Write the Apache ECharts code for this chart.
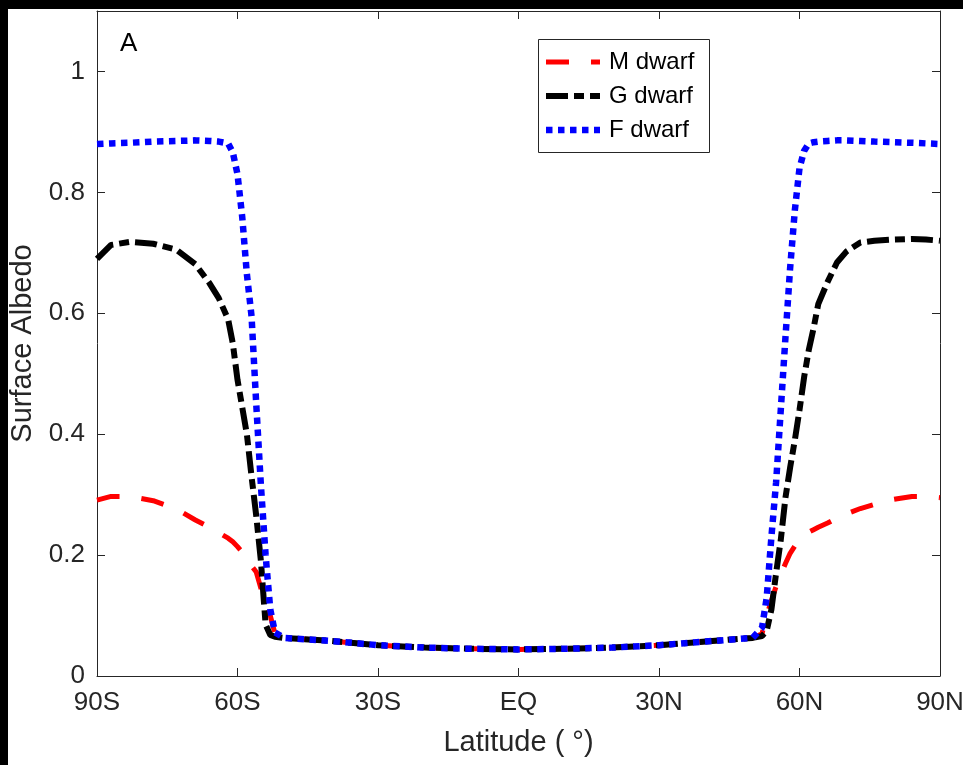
<!DOCTYPE html>
<html>
<head>
<meta charset="utf-8">
<script src="https://cdn.jsdelivr.net/npm/echarts@6/dist/echarts.min.js"></script>
<style>
html,body{margin:0;padding:0;background:#fff;overflow:hidden;}
#c{width:963px;height:765px;}
</style>
</head>
<body>
<div id="c"></div>
<script>
// Latitudes (degrees, negative = south)
const lats = [-90,-87,-83,-78,-73,-69,-66,-64,-62,-61,-60,-59,-58,-57,-56,-55,-54,-53,-52,-50,-40,-30,-20,-10,0,10,20,30,40,50,52,53,54,55,56,57,58,59,60,61,62,63,64,66,68,70,73,76,80,84,87,90];
// Surface albedo per series
const mDwarf = [0.291,0.297,0.297,0.290,0.276,0.258,0.246,0.237,0.228,0.222,0.214,0.205,0.193,0.182,0.172,0.145,0.122,0.100,0.070,0.063,0.058,0.051,0.047,0.045,0.044,0.045,0.047,0.051,0.057,0.063,0.070,0.100,0.125,0.148,0.168,0.186,0.203,0.215,0.225,0.232,0.238,0.242,0.246,0.253,0.261,0.268,0.277,0.284,0.292,0.297,0.297,0.295];
const gDwarf = [0.690,0.713,0.718,0.715,0.705,0.681,0.650,0.625,0.590,0.550,0.490,0.445,0.400,0.330,0.265,0.190,0.085,0.068,0.065,0.063,0.058,0.051,0.047,0.045,0.044,0.045,0.047,0.051,0.057,0.063,0.066,0.075,0.110,0.170,0.225,0.295,0.345,0.390,0.440,0.495,0.540,0.575,0.615,0.652,0.684,0.702,0.717,0.720,0.722,0.723,0.722,0.720];
const fDwarf = [0.880,0.881,0.882,0.884,0.885,0.886,0.885,0.884,0.881,0.866,0.830,0.760,0.665,0.595,0.450,0.315,0.200,0.110,0.072,0.063,0.058,0.051,0.047,0.045,0.044,0.045,0.047,0.051,0.057,0.063,0.080,0.130,0.230,0.320,0.440,0.560,0.675,0.770,0.840,0.869,0.881,0.883,0.884,0.885,0.886,0.886,0.885,0.884,0.883,0.882,0.881,0.880];
const xTickValues = [-90,-60,-30,0,30,60,90];
const xTickLabels = ['90S','60S','30S','EQ','30N','60N','90N'];
const seriesNames = ['M dwarf','G dwarf','F dwarf'];

const zip = vals => lats.map((la,i)=>[la, vals[i]]);
const FONT = 'Liberation Sans';
const AX = '#262626';
const styles = [
  {color:'#ff0000', width:5, dash:[23,22]},
  {color:'#000000', width:6, dash:[22,6,10,6]},
  {color:'#0000ff', width:6.5, dash:[6.5,5.5]}
];
// legend drawn as graphic elements
const legendRows = [62, 96, 130];
const legendGraphic = [
  {type:'rect',shape:{x:538.5,y:39.5,width:171,height:113},style:{fill:'#fff',stroke:AX,lineWidth:1},z:50}
];
seriesNames.forEach((nm,i)=>{
  legendGraphic.push({type:'line',shape:{x1:546,y1:legendRows[i],x2:600,y2:legendRows[i]},
    style:{stroke:styles[i].color,lineWidth:styles[i].width,lineDash:styles[i].dash},z:51});
  legendGraphic.push({type:'text',x:609,y:legendRows[i],
    style:{text:nm,fontSize:24,fontFamily:FONT,fill:'#000',verticalAlign:'middle'},z:51});
});

const chart = echarts.init(document.getElementById('c'), null, {renderer:'canvas'});
chart.setOption({
  animation:false,
  backgroundColor:'#fff',
  textStyle:{fontFamily:FONT},
  grid:{left:97,right:23,top:11,bottom:89,show:false,outerBoundsMode:'none',containLabel:false},
  graphic:[
    {type:'rect',shape:{x:0,y:0,width:963,height:9},style:{fill:'#000'},z:100},
    {type:'rect',shape:{x:0,y:0,width:8,height:765},style:{fill:'#000'},z:100},
    {type:'text',left:120,top:31,style:{text:'A',fontSize:26,fontFamily:FONT,fill:'#000'},z:100}
  ].concat(legendGraphic),
  xAxis:[{
    type:'value',min:-90,max:90,interval:30,
    axisLine:{show:true,onZero:false,lineStyle:{color:AX,width:1}},
    axisTick:{show:true,inside:true,length:8,lineStyle:{color:AX}},
    splitLine:{show:false},
    axisLabel:{fontSize:26,fontFamily:FONT,color:AX,margin:14,
      formatter:v=>{const i=xTickValues.indexOf(v);return i>=0?xTickLabels[i]:'';}},
    name:'Latitude ( °)',nameLocation:'middle',nameGap:52,
    nameTextStyle:{fontSize:29,fontFamily:FONT,color:AX}
  },{
    type:'value',min:-90,max:90,interval:30,position:'top',
    axisLine:{show:true,onZero:false,lineStyle:{color:AX,width:1}},
    axisTick:{show:true,inside:true,length:8,lineStyle:{color:AX}},
    axisLabel:{show:false},splitLine:{show:false}
  }],
  yAxis:[{
    type:'value',min:0,max:1.1,interval:0.2,
    axisLine:{show:true,onZero:false,lineStyle:{color:AX,width:1}},
    axisTick:{show:true,inside:true,length:8,lineStyle:{color:AX}},
    splitLine:{show:false},
    axisLabel:{fontSize:26,fontFamily:FONT,color:AX,margin:12,
      formatter:v=>(Math.abs(v-1.1)<1e-6?'':String(+v.toFixed(1)))},
    name:'Surface Albedo',nameLocation:'middle',nameGap:58,
    nameTextStyle:{fontSize:29,fontFamily:FONT,color:AX}
  },{
    type:'value',min:0,max:1.1,interval:0.2,position:'right',
    axisLine:{show:true,onZero:false,lineStyle:{color:AX,width:1}},
    axisTick:{show:true,inside:true,length:8,lineStyle:{color:AX}},
    axisLabel:{show:false},splitLine:{show:false}
  }],
  series:seriesNames.map((nm,i)=>({
    name:nm,type:'line',data:zip([mDwarf,gDwarf,fDwarf][i]),showSymbol:false,symbol:'none',
    lineStyle:{color:styles[i].color,width:styles[i].width,type:styles[i].dash},
    itemStyle:{color:styles[i].color},z:2+i
  }))
});
</script>
</body>
</html>
